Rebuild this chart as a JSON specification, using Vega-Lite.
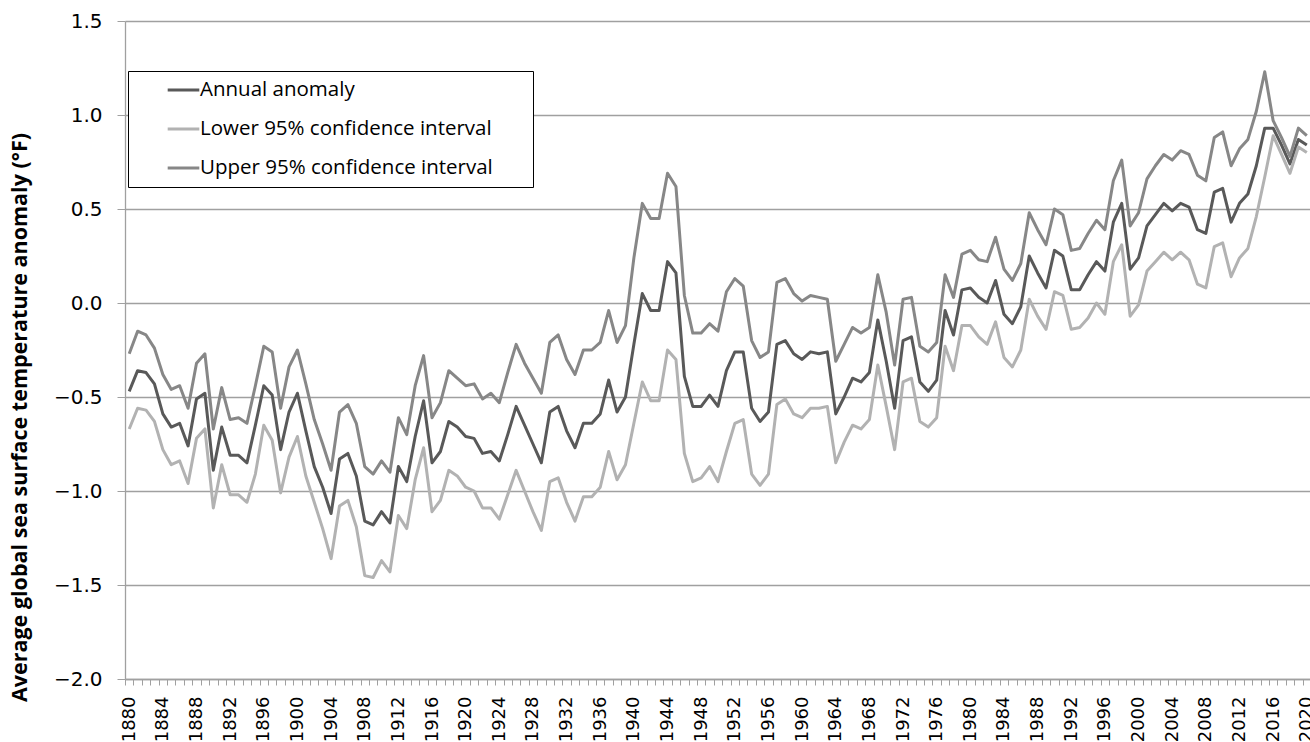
{
  "$schema": "https://vega.github.io/schema/vega-lite/v6.json",
  "width": 1186,
  "height": 658,
  "autosize": "none",
  "padding": {"left": 125, "top": 21, "right": 0, "bottom": 70},
  "background": "white",
  "config": {"view": {"stroke": null}},
  "data": {"values": [
    {"year":1880,"anomaly":-0.47,"lower":-0.67,"upper":-0.27},
    {"year":1881,"anomaly":-0.36,"lower":-0.56,"upper":-0.15},
    {"year":1882,"anomaly":-0.37,"lower":-0.57,"upper":-0.17},
    {"year":1883,"anomaly":-0.43,"lower":-0.63,"upper":-0.24},
    {"year":1884,"anomaly":-0.59,"lower":-0.78,"upper":-0.38},
    {"year":1885,"anomaly":-0.66,"lower":-0.86,"upper":-0.46},
    {"year":1886,"anomaly":-0.64,"lower":-0.84,"upper":-0.44},
    {"year":1887,"anomaly":-0.76,"lower":-0.96,"upper":-0.56},
    {"year":1888,"anomaly":-0.51,"lower":-0.72,"upper":-0.32},
    {"year":1889,"anomaly":-0.48,"lower":-0.67,"upper":-0.27},
    {"year":1890,"anomaly":-0.89,"lower":-1.09,"upper":-0.67},
    {"year":1891,"anomaly":-0.66,"lower":-0.86,"upper":-0.45},
    {"year":1892,"anomaly":-0.81,"lower":-1.02,"upper":-0.62},
    {"year":1893,"anomaly":-0.81,"lower":-1.02,"upper":-0.61},
    {"year":1894,"anomaly":-0.85,"lower":-1.06,"upper":-0.64},
    {"year":1895,"anomaly":-0.65,"lower":-0.91,"upper":-0.44},
    {"year":1896,"anomaly":-0.44,"lower":-0.65,"upper":-0.23},
    {"year":1897,"anomaly":-0.49,"lower":-0.73,"upper":-0.26},
    {"year":1898,"anomaly":-0.78,"lower":-1.01,"upper":-0.56},
    {"year":1899,"anomaly":-0.58,"lower":-0.82,"upper":-0.34},
    {"year":1900,"anomaly":-0.48,"lower":-0.71,"upper":-0.25},
    {"year":1901,"anomaly":-0.68,"lower":-0.92,"upper":-0.43},
    {"year":1902,"anomaly":-0.87,"lower":-1.06,"upper":-0.62},
    {"year":1903,"anomaly":-0.98,"lower":-1.2,"upper":-0.75},
    {"year":1904,"anomaly":-1.12,"lower":-1.36,"upper":-0.89},
    {"year":1905,"anomaly":-0.83,"lower":-1.08,"upper":-0.58},
    {"year":1906,"anomaly":-0.8,"lower":-1.05,"upper":-0.54},
    {"year":1907,"anomaly":-0.92,"lower":-1.19,"upper":-0.64},
    {"year":1908,"anomaly":-1.16,"lower":-1.45,"upper":-0.87},
    {"year":1909,"anomaly":-1.18,"lower":-1.46,"upper":-0.91},
    {"year":1910,"anomaly":-1.11,"lower":-1.37,"upper":-0.84},
    {"year":1911,"anomaly":-1.17,"lower":-1.43,"upper":-0.9},
    {"year":1912,"anomaly":-0.87,"lower":-1.13,"upper":-0.61},
    {"year":1913,"anomaly":-0.95,"lower":-1.2,"upper":-0.7},
    {"year":1914,"anomaly":-0.71,"lower":-0.94,"upper":-0.44},
    {"year":1915,"anomaly":-0.52,"lower":-0.77,"upper":-0.28},
    {"year":1916,"anomaly":-0.85,"lower":-1.11,"upper":-0.61},
    {"year":1917,"anomaly":-0.79,"lower":-1.05,"upper":-0.53},
    {"year":1918,"anomaly":-0.63,"lower":-0.89,"upper":-0.36},
    {"year":1919,"anomaly":-0.66,"lower":-0.92,"upper":-0.4},
    {"year":1920,"anomaly":-0.71,"lower":-0.98,"upper":-0.44},
    {"year":1921,"anomaly":-0.72,"lower":-1.0,"upper":-0.43},
    {"year":1922,"anomaly":-0.8,"lower":-1.09,"upper":-0.51},
    {"year":1923,"anomaly":-0.79,"lower":-1.09,"upper":-0.48},
    {"year":1924,"anomaly":-0.84,"lower":-1.15,"upper":-0.53},
    {"year":1925,"anomaly":-0.7,"lower":-1.02,"upper":-0.37},
    {"year":1926,"anomaly":-0.55,"lower":-0.89,"upper":-0.22},
    {"year":1927,"anomaly":-0.65,"lower":-1.0,"upper":-0.32},
    {"year":1928,"anomaly":-0.75,"lower":-1.11,"upper":-0.4},
    {"year":1929,"anomaly":-0.85,"lower":-1.21,"upper":-0.48},
    {"year":1930,"anomaly":-0.58,"lower":-0.95,"upper":-0.21},
    {"year":1931,"anomaly":-0.55,"lower":-0.93,"upper":-0.17},
    {"year":1932,"anomaly":-0.68,"lower":-1.06,"upper":-0.3},
    {"year":1933,"anomaly":-0.77,"lower":-1.16,"upper":-0.38},
    {"year":1934,"anomaly":-0.64,"lower":-1.03,"upper":-0.25},
    {"year":1935,"anomaly":-0.64,"lower":-1.03,"upper":-0.25},
    {"year":1936,"anomaly":-0.59,"lower":-0.98,"upper":-0.21},
    {"year":1937,"anomaly":-0.41,"lower":-0.79,"upper":-0.04},
    {"year":1938,"anomaly":-0.58,"lower":-0.94,"upper":-0.21},
    {"year":1939,"anomaly":-0.5,"lower":-0.86,"upper":-0.12},
    {"year":1940,"anomaly":-0.22,"lower":-0.64,"upper":0.24},
    {"year":1941,"anomaly":0.05,"lower":-0.42,"upper":0.53},
    {"year":1942,"anomaly":-0.04,"lower":-0.52,"upper":0.45},
    {"year":1943,"anomaly":-0.04,"lower":-0.52,"upper":0.45},
    {"year":1944,"anomaly":0.22,"lower":-0.25,"upper":0.69},
    {"year":1945,"anomaly":0.16,"lower":-0.3,"upper":0.62},
    {"year":1946,"anomaly":-0.39,"lower":-0.8,"upper":0.04},
    {"year":1947,"anomaly":-0.55,"lower":-0.95,"upper":-0.16},
    {"year":1948,"anomaly":-0.55,"lower":-0.93,"upper":-0.16},
    {"year":1949,"anomaly":-0.49,"lower":-0.87,"upper":-0.11},
    {"year":1950,"anomaly":-0.55,"lower":-0.95,"upper":-0.15},
    {"year":1951,"anomaly":-0.36,"lower":-0.79,"upper":0.06},
    {"year":1952,"anomaly":-0.26,"lower":-0.64,"upper":0.13},
    {"year":1953,"anomaly":-0.26,"lower":-0.62,"upper":0.09},
    {"year":1954,"anomaly":-0.56,"lower":-0.91,"upper":-0.2},
    {"year":1955,"anomaly":-0.63,"lower":-0.97,"upper":-0.29},
    {"year":1956,"anomaly":-0.58,"lower":-0.91,"upper":-0.26},
    {"year":1957,"anomaly":-0.22,"lower":-0.54,"upper":0.11},
    {"year":1958,"anomaly":-0.2,"lower":-0.51,"upper":0.13},
    {"year":1959,"anomaly":-0.27,"lower":-0.59,"upper":0.05},
    {"year":1960,"anomaly":-0.3,"lower":-0.61,"upper":0.01},
    {"year":1961,"anomaly":-0.26,"lower":-0.56,"upper":0.04},
    {"year":1962,"anomaly":-0.27,"lower":-0.56,"upper":0.03},
    {"year":1963,"anomaly":-0.26,"lower":-0.55,"upper":0.02},
    {"year":1964,"anomaly":-0.59,"lower":-0.85,"upper":-0.31},
    {"year":1965,"anomaly":-0.5,"lower":-0.74,"upper":-0.22},
    {"year":1966,"anomaly":-0.4,"lower":-0.65,"upper":-0.13},
    {"year":1967,"anomaly":-0.42,"lower":-0.67,"upper":-0.16},
    {"year":1968,"anomaly":-0.37,"lower":-0.62,"upper":-0.13},
    {"year":1969,"anomaly":-0.09,"lower":-0.33,"upper":0.15},
    {"year":1970,"anomaly":-0.31,"lower":-0.55,"upper":-0.05},
    {"year":1971,"anomaly":-0.56,"lower":-0.78,"upper":-0.33},
    {"year":1972,"anomaly":-0.2,"lower":-0.42,"upper":0.02},
    {"year":1973,"anomaly":-0.18,"lower":-0.4,"upper":0.03},
    {"year":1974,"anomaly":-0.42,"lower":-0.63,"upper":-0.23},
    {"year":1975,"anomaly":-0.47,"lower":-0.66,"upper":-0.26},
    {"year":1976,"anomaly":-0.41,"lower":-0.61,"upper":-0.21},
    {"year":1977,"anomaly":-0.04,"lower":-0.23,"upper":0.15},
    {"year":1978,"anomaly":-0.17,"lower":-0.36,"upper":0.03},
    {"year":1979,"anomaly":0.07,"lower":-0.12,"upper":0.26},
    {"year":1980,"anomaly":0.08,"lower":-0.12,"upper":0.28},
    {"year":1981,"anomaly":0.03,"lower":-0.18,"upper":0.23},
    {"year":1982,"anomaly":0.0,"lower":-0.22,"upper":0.22},
    {"year":1983,"anomaly":0.12,"lower":-0.1,"upper":0.35},
    {"year":1984,"anomaly":-0.06,"lower":-0.29,"upper":0.18},
    {"year":1985,"anomaly":-0.11,"lower":-0.34,"upper":0.12},
    {"year":1986,"anomaly":-0.02,"lower":-0.25,"upper":0.21},
    {"year":1987,"anomaly":0.25,"lower":0.02,"upper":0.48},
    {"year":1988,"anomaly":0.16,"lower":-0.07,"upper":0.39},
    {"year":1989,"anomaly":0.08,"lower":-0.14,"upper":0.31},
    {"year":1990,"anomaly":0.28,"lower":0.06,"upper":0.5},
    {"year":1991,"anomaly":0.25,"lower":0.04,"upper":0.47},
    {"year":1992,"anomaly":0.07,"lower":-0.14,"upper":0.28},
    {"year":1993,"anomaly":0.07,"lower":-0.13,"upper":0.29},
    {"year":1994,"anomaly":0.15,"lower":-0.08,"upper":0.37},
    {"year":1995,"anomaly":0.22,"lower":0.0,"upper":0.44},
    {"year":1996,"anomaly":0.17,"lower":-0.06,"upper":0.39},
    {"year":1997,"anomaly":0.43,"lower":0.22,"upper":0.65},
    {"year":1998,"anomaly":0.53,"lower":0.31,"upper":0.76},
    {"year":1999,"anomaly":0.18,"lower":-0.07,"upper":0.41},
    {"year":2000,"anomaly":0.24,"lower":-0.01,"upper":0.48},
    {"year":2001,"anomaly":0.41,"lower":0.17,"upper":0.66},
    {"year":2002,"anomaly":0.47,"lower":0.22,"upper":0.73},
    {"year":2003,"anomaly":0.53,"lower":0.27,"upper":0.79},
    {"year":2004,"anomaly":0.49,"lower":0.23,"upper":0.76},
    {"year":2005,"anomaly":0.53,"lower":0.27,"upper":0.81},
    {"year":2006,"anomaly":0.51,"lower":0.23,"upper":0.79},
    {"year":2007,"anomaly":0.39,"lower":0.1,"upper":0.68},
    {"year":2008,"anomaly":0.37,"lower":0.08,"upper":0.65},
    {"year":2009,"anomaly":0.59,"lower":0.3,"upper":0.88},
    {"year":2010,"anomaly":0.61,"lower":0.32,"upper":0.91},
    {"year":2011,"anomaly":0.43,"lower":0.14,"upper":0.73},
    {"year":2012,"anomaly":0.53,"lower":0.24,"upper":0.82},
    {"year":2013,"anomaly":0.58,"lower":0.29,"upper":0.87},
    {"year":2014,"anomaly":0.73,"lower":0.46,"upper":1.02},
    {"year":2015,"anomaly":0.93,"lower":0.67,"upper":1.23},
    {"year":2016,"anomaly":0.93,"lower":0.89,"upper":0.97},
    {"year":2017,"anomaly":0.84,"lower":0.79,"upper":0.88},
    {"year":2018,"anomaly":0.74,"lower":0.69,"upper":0.78},
    {"year":2019,"anomaly":0.87,"lower":0.83,"upper":0.93},
    {"year":2020,"anomaly":0.84,"lower":0.8,"upper":0.89}
  ]},
  "transform": [{"fold": ["anomaly", "lower", "upper"], "as": ["series", "value"]}],
  "mark": {"type": "line", "strokeWidth": 3, "strokeJoin": "round"},
  "encoding": {
    "x": {
      "field": "year", "type": "quantitative",
      "scale": {"domain": [1879.5, 2020.5], "nice": false, "zero": false},
      "axis": {
        "title": null, "grid": false, "tickCount": 141, "tickMinStep": 1,
        "tickOffset": -4.2, "labelOffset": 4.2,
        "labelExpr": "datum.value % 4 === 0 ? datum.value : ''",
        "labelAngle": -90, "labelOverlap": false, "labelFlush": false,
        "labelFont": "DejaVu Sans", "labelFontSize": 18, "labelColor": "#000",
        "labelPadding": 11,
        "tickSize": 6, "tickColor": "#a0a0a0", "tickWidth": 1,
        "domainColor": "#a0a0a0", "domainWidth": 1.3
      }
    },
    "y": {
      "field": "value", "type": "quantitative",
      "scale": {"domain": [-2, 1.5], "nice": false, "zero": false},
      "axis": {
        "values": [-2, -1.5, -1, -0.5, 0, 0.5, 1, 1.5],
        "format": ".1f",
        "title": "Average global sea surface temperature anomaly (°F)",
        "titleFont": "Open Sans", "titleFontWeight": "bold", "titleFontSize": 21.5, "titleColor": "#000",
        "titleX": -94, "titleY": 396, "titleAngle": -90, "titleAlign": "center", "titleBaseline": "bottom",
        "labelFont": "DejaVu Sans", "labelFontSize": 20, "labelColor": "#000", "labelPadding": 15,
        "tickSize": 8, "tickColor": "#a0a0a0", "tickWidth": 1,
        "domainColor": "#a0a0a0", "domainWidth": 1.3,
        "grid": true, "gridColor": "#a0a0a0", "gridWidth": 1.3
      }
    },
    "color": {
      "field": "series", "type": "nominal",
      "scale": {"domain": ["anomaly", "lower", "upper"], "range": ["#595959", "#b2b2b2", "#878787"]},
      "legend": {
        "title": "\u00a0", "titleOrient": "right", "titlePadding": 32, "titleFontSize": 4,
        "orient": "none", "legendX": 3, "legendY": 50,
        "symbolType": "stroke", "symbolSize": 1000, "symbolStrokeWidth": 3,
        "labelFont": "Open Sans", "labelFontSize": 20.5, "labelColor": "#000", "labelLimit": 600,
        "labelExpr": "datum.value == 'anomaly' ? 'Annual anomaly' : datum.value == 'lower' ? 'Lower 95% confidence interval' : 'Upper 95% confidence interval'",
        "padding": 8, "symbolOffset": 30, "clipHeight": 22, "rowPadding": 17, "labelOffset": -1,
        "strokeColor": "#000", "fillColor": "white"
      }
    }
  }
}
